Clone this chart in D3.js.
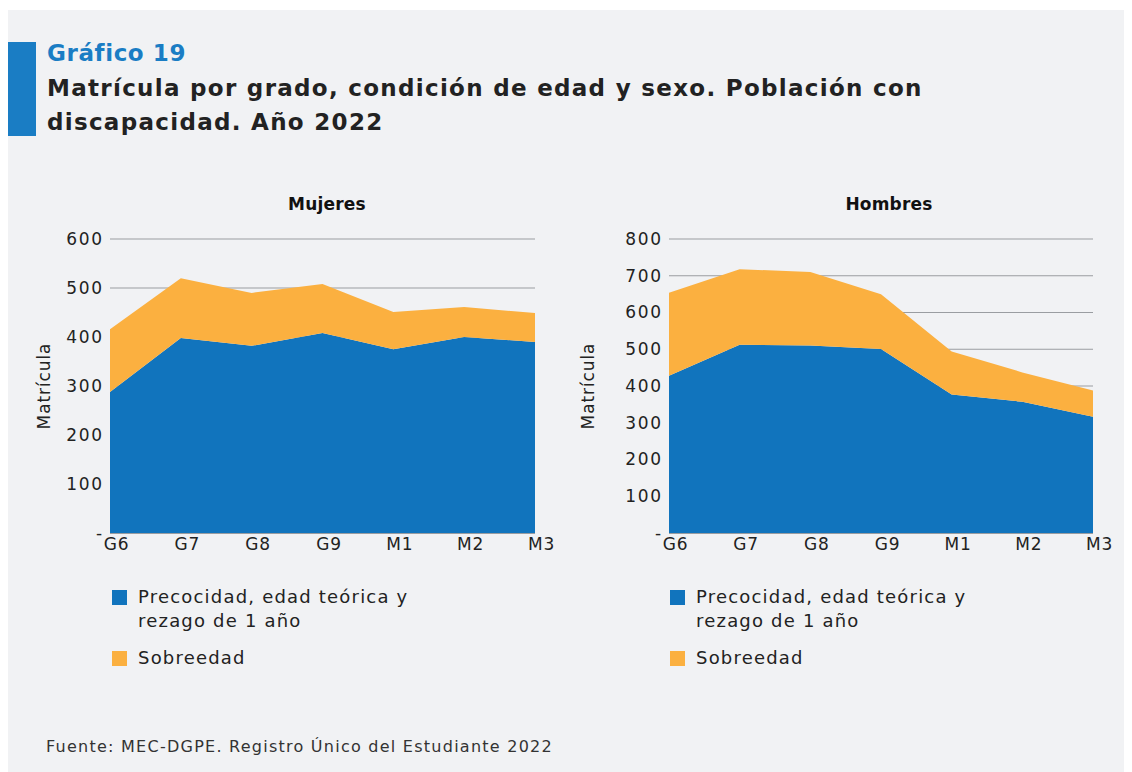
<!DOCTYPE html>
<html>
<head>
<meta charset="utf-8">
<script src="https://cdn.jsdelivr.net/npm/d3@7"></script>
<style>
  body { margin: 0; background: #fff; }
  svg { display: block; font-family: "DejaVu Sans", sans-serif; }
</style>
</head>
<body>
<svg width="1132" height="772"></svg>
<script>
// Data
const grades = ["G6", "G7", "G8", "G9", "M1", "M2", "M3"];
const mujeresBase = [288, 398, 382, 408, 375, 400, 390];
const mujeresSobre = [128, 122, 108, 100, 76, 61, 59];
const hombresBase = [428, 512, 510, 501, 377, 357, 316];
const hombresSobre = [226, 206, 200, 149, 117, 80, 72];
const mujeresTicks = [0, 100, 200, 300, 400, 500, 600];
const hombresTicks = [0, 100, 200, 300, 400, 500, 600, 700, 800];
const seriesNames = ["Precocidad, edad teórica y\nrezago de 1 año", "Sobreedad"];

const colors = ["#1174bd", "#fbb040"];
const textColor = "#222";
const font = "DejaVu Sans, sans-serif";

const svg = d3.select("svg");

// Panel background
svg.append("rect")
    .attr("x", 8).attr("y", 10)
    .attr("width", 1116).attr("height", 762)
    .attr("fill", "#f1f2f4");

// Title block
svg.append("rect")
    .attr("x", 8).attr("y", 42)
    .attr("width", 28).attr("height", 94)
    .attr("fill", "#1a7dc4");

svg.append("text")
    .attr("x", 47).attr("y", 61)
    .attr("font-size", 23).attr("font-weight", 700)
    .attr("letter-spacing", 0.6)
    .attr("fill", "#1a7dc4")
    .text("Gráfico 19");

svg.append("text")
    .attr("x", 47).attr("y", 96)
    .attr("font-size", 23).attr("font-weight", 700)
    .attr("letter-spacing", 1.3)
    .attr("fill", textColor)
    .text("Matrícula por grado, condición de edad y sexo. Población con");

svg.append("text")
    .attr("x", 47).attr("y", 130)
    .attr("font-size", 23).attr("font-weight", 700)
    .attr("letter-spacing", 1.3)
    .attr("fill", textColor)
    .text("discapacidad. Año 2022");

// Source
svg.append("text")
    .attr("x", 46).attr("y", 752)
    .attr("font-size", 16)
    .attr("letter-spacing", 1.25)
    .attr("fill", "#333")
    .text("Fuente: MEC-DGPE. Registro Único del Estudiante 2022");

// One panel: stacked area
const drawPanel = (opts) => {
    const { title, base, sobre, ticks, left, right, titleX, yTitleX, legendX } = opts;
    const top = 239, bottom = 533;

    const x = d3.scalePoint().domain(grades).range([left, right]);
    const y = d3.scaleLinear().domain([0, d3.max(ticks)]).range([bottom, top]);

    const rows = grades.map((g, i) => ({ grade: g, base: base[i], sobre: sobre[i] }));
    const stacked = d3.stack().keys(["base", "sobre"])(rows);

    const g = svg.append("g");

    // Gridlines
    g.append("g")
        .selectAll("line")
        .data(ticks.filter(t => t > 0))
        .join("line")
        .attr("x1", left).attr("x2", right)
        .attr("y1", d => y(d)).attr("y2", d => y(d))
        .attr("stroke", "#9a9da1")
        .attr("stroke-width", 1);

    // Areas
    const area = d3.area()
        .x(d => x(d.data.grade))
        .y0(d => y(d[0]))
        .y1(d => y(d[1]));

    g.selectAll("path.area")
        .data(stacked)
        .join("path")
        .attr("class", "area")
        .attr("d", area)
        .attr("fill", (d, i) => colors[i]);

    // Baseline
    g.append("line")
        .attr("x1", left).attr("x2", right)
        .attr("y1", bottom + 0.5).attr("y2", bottom + 0.5)
        .attr("stroke", "#9a9da1");

    // Y axis labels
    const yAxis = d3.axisLeft(y)
        .tickValues(ticks)
        .tickSize(0)
        .tickPadding(0)
        .tickFormat(d => d === 0 ? "-" : d);
    const ya = g.append("g")
        .attr("transform", `translate(${left - 6},0)`)
        .call(yAxis);
    ya.select(".domain").remove();
    ya.selectAll("text")
        .attr("font-size", 17)
        .attr("letter-spacing", 1.8)
        .attr("font-family", font)
        .attr("fill", textColor);

    // X axis labels
    const xAxis = d3.axisBottom(x).tickSize(0).tickPadding(0);
    const xa = g.append("g")
        .attr("transform", `translate(6,${bottom + 5})`)
        .call(xAxis);
    xa.select(".domain").remove();
    xa.selectAll("text")
        .attr("font-size", 17)
        .attr("letter-spacing", 0.8)
        .attr("font-family", font)
        .attr("fill", textColor);

    // Panel title
    g.append("text")
        .attr("x", titleX).attr("y", 210)
        .attr("text-anchor", "middle")
        .attr("font-size", 17).attr("font-weight", 700)
        .attr("letter-spacing", 0.2)
        .attr("fill", "#111")
        .text(title);

    // Y title
    g.append("text")
        .attr("transform", `translate(${yTitleX},${(top + bottom) / 2}) rotate(-90)`)
        .attr("text-anchor", "middle")
        .attr("font-size", 17)
        .attr("letter-spacing", 0.9)
        .attr("fill", textColor)
        .text("Matrícula");

    // Legend
    const legendY = [590, 651];
    seriesNames.forEach((name, i) => {
        g.append("rect")
            .attr("x", legendX).attr("y", legendY[i])
            .attr("width", 15).attr("height", 15)
            .attr("fill", colors[i]);
        const t = g.append("text")
            .attr("x", legendX + 26).attr("y", legendY[i] + 13)
            .attr("font-size", 18)
            .attr("letter-spacing", 1.2)
            .attr("fill", textColor);
        name.split("\n").forEach((line, j) => {
            t.append("tspan")
                .attr("x", legendX + 26)
                .attr("dy", j === 0 ? 0 : 24)
                .text(line);
        });
    });
};

drawPanel({
    title: "Mujeres", base: mujeresBase, sobre: mujeresSobre, ticks: mujeresTicks,
    left: 110, right: 535, titleX: 327, yTitleX: 50, legendX: 112
});

drawPanel({
    title: "Hombres", base: hombresBase, sobre: hombresSobre, ticks: hombresTicks,
    left: 669, right: 1093, titleX: 889, yTitleX: 594, legendX: 670
});
</script>
</body>
</html>
